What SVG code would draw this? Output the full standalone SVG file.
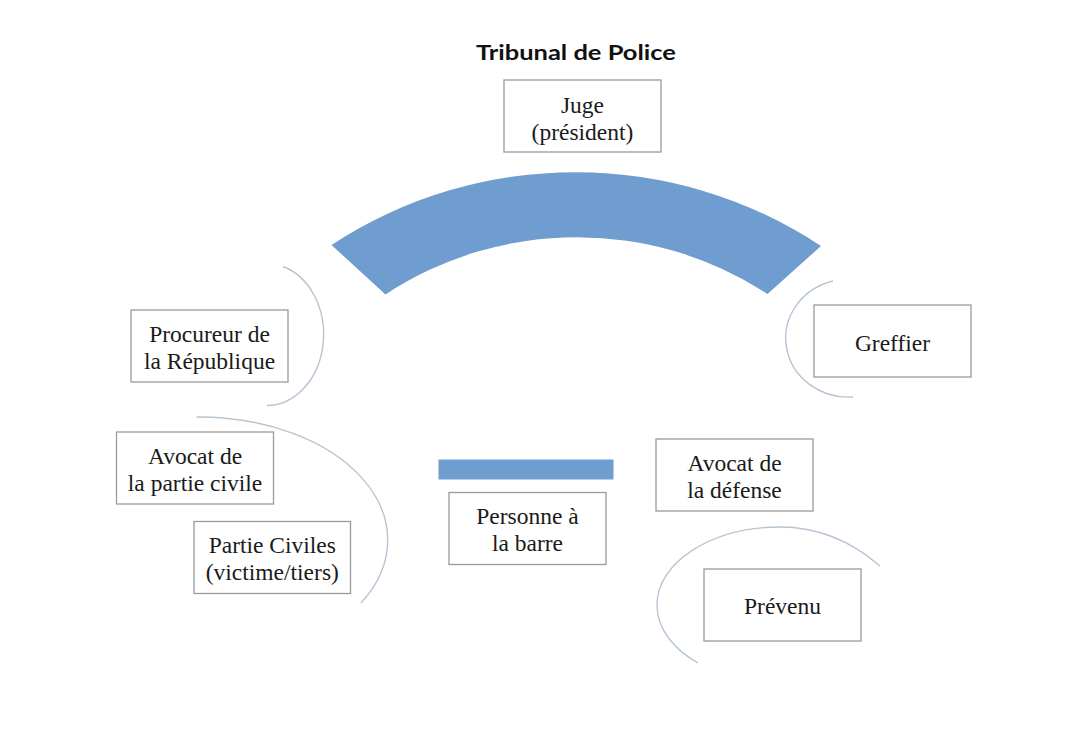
<svg xmlns="http://www.w3.org/2000/svg" width="1080" height="736" viewBox="0 0 1080 736">
<style>
.box{fill:#ffffff;stroke:#9a9a9a;stroke-width:1.3}
.lbl{font-family:"Liberation Serif","Times New Roman",serif;font-size:23.5px;fill:#1a1a1a;text-anchor:middle}
.curve{fill:none;stroke:#b7c5d3;stroke-width:1.4}
.bench{fill:#6f9dcf}
.title{font-family:Lato,"Open Sans","Liberation Sans",sans-serif;font-weight:700;font-size:21.5px;fill:#111;text-anchor:middle}
</style>
<rect width="1080" height="736" fill="#ffffff"/>
<text class="title" x="576" y="60" textLength="200" lengthAdjust="spacingAndGlyphs">Tribunal de Police</text>
<g id="bench">
<path class="bench" d="M331.5,245 A445,445 0 0 1 821,246 L767.5,294 A348,348 0 0 0 385.5,294.5 Z"/>
</g>
<g id="bar">
<rect class="bench" x="438.5" y="459.5" width="175" height="20"/>
</g>
<g id="connectors">
<path class="curve" d="M283,266.5 A57,71 0 0 1 267,405.5"/>
<path class="curve" d="M196.5,417 A189,123 0 0 1 361,603"/>
<path class="curve" d="M833,281 A63,59 0 0 0 853,397"/>
<path class="curve" d="M880,566 C850,540 815,527 780,527 C712,527 657,562 657,605 C657,630 675,650 698,663"/>
</g>
<g id="juge">
<rect class="box" x="504" y="80" width="157" height="72"/>
<text class="lbl" x="582.5" y="112.5">Juge</text>
<text class="lbl" x="582.5" y="139.5">(président)</text>
</g>
<g id="procureur">
<rect class="box" x="131" y="310" width="157" height="72"/>
<text class="lbl" x="209.5" y="342">Procureur de</text>
<text class="lbl" x="209.5" y="369">la République</text>
</g>
<g id="greffier">
<rect class="box" x="814" y="305" width="157" height="72"/>
<text class="lbl" x="892.5" y="350.5">Greffier</text>
</g>
<g id="avocat-partie-civile">
<rect class="box" x="116.5" y="432" width="157" height="72"/>
<text class="lbl" x="195" y="463.5">Avocat de</text>
<text class="lbl" x="195" y="490.5">la partie civile</text>
</g>
<g id="partie-civiles">
<rect class="box" x="194" y="521.5" width="156.5" height="72"/>
<text class="lbl" x="272.3" y="553">Partie Civiles</text>
<text class="lbl" x="272.3" y="580">(victime/tiers)</text>
</g>
<g id="personne">
<rect class="box" x="449" y="492.5" width="157" height="72"/>
<text class="lbl" x="527.5" y="523.5">Personne à</text>
<text class="lbl" x="527.5" y="550.5">la barre</text>
</g>
<g id="avocat-defense">
<rect class="box" x="656" y="439" width="157" height="72"/>
<text class="lbl" x="734.5" y="470.5">Avocat de</text>
<text class="lbl" x="734.5" y="497.5">la défense</text>
</g>
<g id="prevenu">
<rect class="box" x="704" y="569" width="157" height="72"/>
<text class="lbl" x="782.5" y="613.5">Prévenu</text>
</g>
</svg>
